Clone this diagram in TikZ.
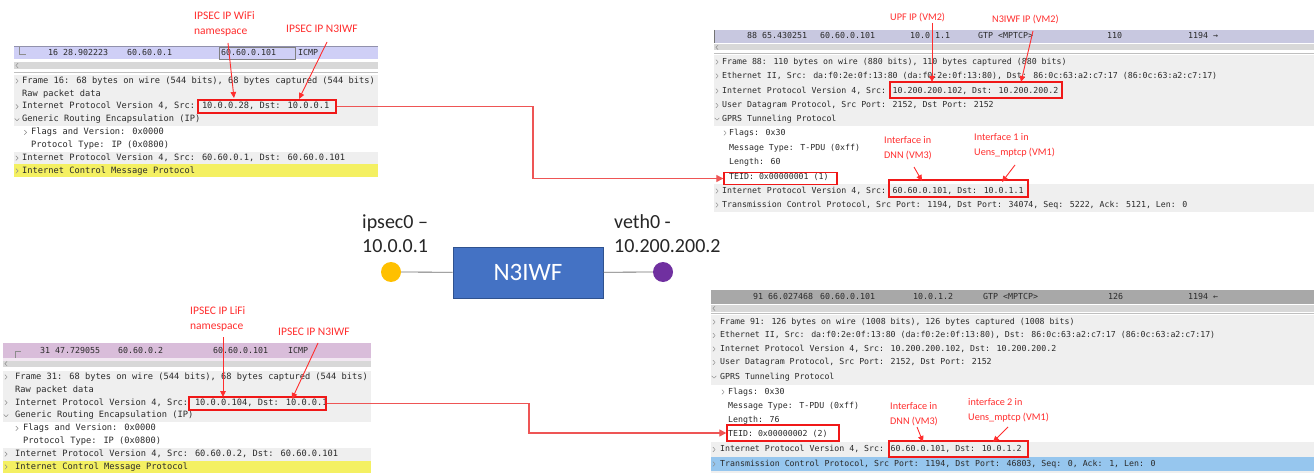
\documentclass[tikz,border=0pt]{standalone}
\usepackage{fontspec}
\setmainfont{Carlito}
\newfontfamily\wsmono{DejaVu Sans Mono}
\usetikzlibrary{arrows.meta,calc}
\definecolor{rowgray}{HTML}{EFEFEF}
\definecolor{wstext}{HTML}{2A2A2A}
\definecolor{icmpyel}{HTML}{F4F062}
\definecolor{tcpblue}{HTML}{96C6EE}
\definecolor{hdrtl}{HTML}{CFCFF6}
\definecolor{hdrbl}{HTML}{D9BDDA}
\definecolor{hdrtr}{HTML}{C8C8E0}
\definecolor{hdrbr}{HTML}{A8A8A8}
\definecolor{scrollg}{HTML}{D8D8D8}
\definecolor{labred}{HTML}{FF2E2E}
\definecolor{boxred}{HTML}{F01818}
\definecolor{connred}{HTML}{EE5555}
\definecolor{n3fill}{HTML}{4472C4}
\definecolor{n3draw}{HTML}{2F528F}
\definecolor{ipyel}{HTML}{FFC000}
\definecolor{vpurp}{HTML}{7030A0}
\newcommand\chR[2]{\draw[chev] (#1,#2) ++(-1.1,-2.3) -- ++(2.2,2.3) -- ++(-2.2,2.3);}
\newcommand\chL[2]{\draw[chev] (#1,#2) ++(1.1,-2.3) -- ++(-2.2,2.3) -- ++(2.2,2.3);}
\newcommand\chD[2]{\draw[chev] (#1,#2) ++(-2.3,-1.1) -- ++(2.3,2.2) -- ++(2.3,-2.2);}
\begin{document}
\begin{tikzpicture}[x=1pt,y=-1pt,
  lt/.style={anchor=west, inner sep=0, text=wstext, font=\wsmono\fontsize{8.7}{10}\selectfont, text height=6.4pt, text depth=1.8pt},
  rt/.style={anchor=west, inner sep=0, text=wstext, font=\wsmono\fontsize{8.25}{10}\selectfont, text height=6.2pt, text depth=1.7pt},
  ht/.style={anchor=west, inner sep=0, text=wstext, font=\wsmono\fontsize{8.3}{10}\selectfont, text height=6.2pt, text depth=1.7pt},
  llab/.style={inner sep=0, text=labred, align=left, font=\fontsize{11.5}{15}\selectfont},
  rlab/.style={inner sep=0, text=labred, align=left, font=\fontsize{10.2}{15}\selectfont},
  rbox/.style={draw=boxred, line width=1.4pt, inner sep=0, fill=none},
  conn/.style={draw=connred, line width=1.3pt, -{Triangle[length=7pt,width=7pt]}},
  larr/.style={draw=labred, line width=0.9pt, -{Triangle[length=6pt,width=5.5pt]}},
  chev/.style={draw=black!45, line width=0.5pt},
  ctext/.style={anchor=base west, inner sep=0, text=black!85, font=\fontsize{20}{24}\selectfont},
  link/.style={draw=black!55, line width=0.8pt},
  dot/.style={circle, inner sep=0, minimum size=20pt}
]
\useasboundingbox (0,0) rectangle (1314,473);
\fill[white] (0,0) rectangle (1314,473);

% ================= TOP-LEFT PANEL =================
\fill[hdrtl] (14,46) rectangle (378,59.5);
\draw[hdrtl!70!black, line width=0.5pt] (14,46) -- (378,46);
\draw[black!45, line width=0.5pt] (19,47.5) -- (19,54.5) -- (26,54.5);
\draw[black!50, line width=0.5pt] (219,47) rectangle (295,59);
\node[ht] (tlh1) at (48,53) {16 28.902223};
\node[ht] (tlh2) at (127,53) {60.60.0.1};
\node[ht] (tlh3) at (221,53) {60.60.0.101};
\node[ht] (tlh4) at (298,53) {ICMP};
\fill[scrollg] (14,62) rectangle (378,69);
\chL{17}{65.5}
\draw[black!25, line width=0.5pt] (14,72) -- (378,72);
\fill[rowgray] (14,74.6) rectangle (378,177.4);
\fill[white] (14,126) rectangle (378,151.7);
\fill[icmpyel] (14,164.5) rectangle (378,177.4);
\chR{17}{81}\chR{17}{106.7}\chD{17}{119.55}\chR{25.5}{132.4}\chR{17}{158.1}\chR{17}{170.95}
\node[lt] (tl1) at (22,81) {Frame 16: 68 bytes on wire (544 bits), 68 bytes captured (544 bits)};
\node[lt] (tl2) at (22,93.85) {Raw packet data};
\node[lt] (tl3) at (22,106.7) {Internet Protocol Version 4, Src: 10.0.0.28, Dst: 10.0.0.1};
\node[lt] (tl4) at (22,119.55) {Generic Routing Encapsulation (IP)};
\node[lt] (tl5) at (31,132.4) {Flags and Version: 0x0000};
\node[lt] (tl6) at (31,145.25) {Protocol Type: IP (0x0800)};
\node[lt] (tl7) at (22,158.1) {Internet Protocol Version 4, Src: 60.60.0.1, Dst: 60.60.0.101};
\node[lt] (tl8) at (22,170.95) {Internet Control Message Protocol};
\node[rbox, minimum width=138pt, minimum height=13pt] (tlbox) at (267,106.5) {};
\node[llab, anchor=north west] (tlwifi) at (194,11.6) {IPSEC IP WiFi\\namespace};
\node[llab, anchor=base west] (tln3) at (286,32.7) {IPSEC IP N3IWF};
\coordinate (tla1s) at (228,43); \coordinate (tla1e) at (234,98);
\coordinate (tla2s) at (327,42); \coordinate (tla2e) at (299,99);
\draw[larr] (tla1s) -- (tla1e);
\draw[larr] (tla2s) -- (tla2e);

% ================= BOTTOM-LEFT PANEL =================
\fill[hdrbl] (3,343) rectangle (371,358);
\fill[hdrbl!35] (3,358) rectangle (371,360.5);
\draw[black!45, line width=0.5pt] (15,358) -- (15,351.5) -- (21,351.5);
\node[ht] (blh1) at (40,351) {31 47.729055};
\node[ht] (blh2) at (118,351) {60.60.0.2};
\node[ht] (blh3) at (213,351) {60.60.0.101};
\node[ht] (blh4) at (288,351) {ICMP};
\fill[scrollg] (3,360.5) rectangle (371,367);
\chL{6}{363.7}
\fill[rowgray] (3,370.6) rectangle (371,473);
\fill[white] (3,422) rectangle (371,447.7);
\fill[icmpyel] (3,460.5) rectangle (371,473);
\chR{6}{377}\chR{6}{402.7}\chD{6}{415.55}\chR{17}{428.4}\chR{6}{454.1}\chR{6}{466.95}
\node[lt] (bl1) at (15,377) {Frame 31: 68 bytes on wire (544 bits), 68 bytes captured (544 bits)};
\node[lt] (bl2) at (15,389.85) {Raw packet data};
\node[lt] (bl3) at (15,402.7) {Internet Protocol Version 4, Src: 10.0.0.104, Dst: 10.0.0.1};
\node[lt] (bl4) at (15,415.55) {Generic Routing Encapsulation (IP)};
\node[lt] (bl5) at (23,428.4) {Flags and Version: 0x0000};
\node[lt] (bl6) at (23,441.25) {Protocol Type: IP (0x0800)};
\node[lt] (bl7) at (15,454.1) {Internet Protocol Version 4, Src: 60.60.0.2, Dst: 60.60.0.101};
\node[lt] (bl8) at (15,466.95) {Internet Control Message Protocol};
\node[rbox, minimum width=137pt, minimum height=13pt] (blbox) at (257.5,403.5) {};
\node[llab, anchor=north west] (bllifi) at (190,306.6) {IPSEC IP LiFi\\namespace};
\node[llab, anchor=base west] (bln3) at (278,335.7) {IPSEC IP N3IWF};
\coordinate (bla1s) at (223,337); \coordinate (bla1e) at (223,397);
\coordinate (bla2s) at (318,343); \coordinate (bla2e) at (292,399);
\draw[larr] (bla1s) -- (bla1e);
\draw[larr] (bla2s) -- (bla2e);

% ================= TOP-RIGHT PANEL =================
\fill[hdrtr] (714,30) rectangle (1314,43);
\draw[black!55, line width=0.6pt] (714,30) -- (714,43);
\node[ht] (trh1) at (747,36.5) {88 65.430251};
\node[ht] (trh2) at (820,36.5) {60.60.0.101};
\node[ht] (trh3) at (910,36.5) {10.0.1.1};
\node[ht] (trh4) at (978,36.5) {GTP <MPTCP>};
\node[ht] (trh5) at (1107,36.5) {110};
\node[ht] (trh6) at (1188,36.5) {1194 →};
\fill[scrollg] (714,44) rectangle (1314,50.5);
\chL{717}{47.3}
\draw[black!25, line width=0.5pt] (714,53) -- (1314,53);
\fill[rowgray] (714,55) rectangle (1314,212);
\fill[white] (714,126) rectangle (1314,184);
\chR{717}{62}\chR{717}{76}\chR{717}{91}\chR{717}{105.5}\chD{717}{119}\chR{725}{133}\chR{717}{191}\chR{717}{205}
\node[rt] (tr1) at (722,62) {Frame 88: 110 bytes on wire (880 bits), 110 bytes captured (880 bits)};
\node[rt] (tr2) at (722,76) {Ethernet II, Src: da:f0:2e:0f:13:80 (da:f0:2e:0f:13:80), Dst: 86:0c:63:a2:c7:17 (86:0c:63:a2:c7:17)};
\node[rt] (tr3) at (722,91) {Internet Protocol Version 4, Src: 10.200.200.102, Dst: 10.200.200.2};
\node[rt] (tr4) at (722,105.5) {User Datagram Protocol, Src Port: 2152, Dst Port: 2152};
\node[rt] (tr5) at (722,119) {GPRS Tunneling Protocol};
\node[rt] (tr6) at (729,133) {Flags: 0x30};
\node[rt] (tr7) at (729,148) {Message Type: T-PDU (0xff)};
\node[rt] (tr8) at (729,162) {Length: 60};
\node[rt] (tr9) at (729,177) {TEID: 0x00000001 (1)};
\node[rt] (tr10) at (722,191) {Internet Protocol Version 4, Src: 60.60.0.101, Dst: 10.0.1.1};
\node[rt] (tr11) at (722,205) {Transmission Control Protocol, Src Port: 1194, Dst Port: 34074, Seq: 5222, Ack: 5121, Len: 0};
\node[rbox, minimum width=172pt, minimum height=16pt] (trbox1) at (976,90) {};
\node[rbox, minimum width=113pt, minimum height=11.5pt] (trteid) at (780.5,178.5) {};
\node[rbox, minimum width=139pt, minimum height=17pt] (trbox2) at (958.5,188.5) {};
\node[rlab, anchor=base west] (trupf) at (890,20.3) {UPF IP (VM2)};
\node[rlab, anchor=base west] (trn3) at (992,22.3) {N3IWF IP (VM2)};
\node[rlab, anchor=north west] (trdnn) at (884,136.2) {Interface in\\DNN (VM3)};
\node[rlab, anchor=north west] (true) at (974,133.2) {Interface 1 in\\Uens\_mptcp (VM1)};
\coordinate (tra1s) at (932,23); \coordinate (tra1e) at (932,82);
\coordinate (tra2s) at (1033,31); \coordinate (tra2e) at (1021,82);
\coordinate (tra3s) at (914,167); \coordinate (tra3e) at (922,181);
\coordinate (tra4s) at (1015,165); \coordinate (tra4e) at (1002,182);
\draw[larr] (tra1s) -- (tra1e);
\draw[larr] (tra2s) -- (tra2e);
\draw[larr] (tra3s) -- (tra3e);
\draw[larr] (tra4s) -- (tra4e);

% ================= BOTTOM-RIGHT PANEL =================
\fill[hdrbr] (711,290) rectangle (1314,304);
\node[ht] (brh1) at (753,297) {91 66.027468};
\node[ht] (brh2) at (820,297) {60.60.0.101};
\node[ht] (brh3) at (913,297) {10.0.1.2};
\node[ht] (brh4) at (983,297) {GTP <MPTCP>};
\node[ht] (brh5) at (1108,297) {126};
\node[ht] (brh6) at (1188,297) {1194 ←};
\fill[scrollg] (711,305) rectangle (1314,311.5);
\chL{714}{308.3}
\draw[black!25, line width=0.5pt] (711,313.5) -- (1314,313.5);
\fill[rowgray] (711,315) rectangle (1314,473);
\fill[white] (711,385) rectangle (1314,441.5);
\fill[tcpblue] (711,457) rectangle (1314,471);
\chR{714}{322}\chR{714}{335.5}\chR{714}{349}\chR{714}{362.5}\chD{714}{377}\chR{723}{392}\chR{714}{449.5}\chR{714}{464}
\node[rt] (br1) at (720,322) {Frame 91: 126 bytes on wire (1008 bits), 126 bytes captured (1008 bits)};
\node[rt] (br2) at (720,335.5) {Ethernet II, Src: da:f0:2e:0f:13:80 (da:f0:2e:0f:13:80), Dst: 86:0c:63:a2:c7:17 (86:0c:63:a2:c7:17)};
\node[rt] (br3) at (720,349) {Internet Protocol Version 4, Src: 10.200.200.102, Dst: 10.200.200.2};
\node[rt] (br4) at (720,362.5) {User Datagram Protocol, Src Port: 2152, Dst Port: 2152};
\node[rt] (br5) at (720,377) {GPRS Tunneling Protocol};
\node[rt] (br6) at (728,392) {Flags: 0x30};
\node[rt] (br7) at (728,406) {Message Type: T-PDU (0xff)};
\node[rt] (br8) at (728,420) {Length: 76};
\node[rt] (br9) at (728,434) {TEID: 0x00000002 (2)};
\node[rt] (br10) at (720,449.5) {Internet Protocol Version 4, Src: 60.60.0.101, Dst: 10.0.1.2};
\node[rt] (br11) at (720,464) {Transmission Control Protocol, Src Port: 1194, Dst Port: 46803, Seq: 0, Ack: 1, Len: 0};
\node[rbox, minimum width=112pt, minimum height=16pt] (brteid) at (783,433) {};
\node[rbox, minimum width=139pt, minimum height=16pt] (brbox2) at (958.5,449) {};
\node[rlab, anchor=north west] (brdnn) at (890,402.2) {Interface in\\DNN (VM3)};
\node[rlab, anchor=north west] (brue) at (968,398.2) {interface 2 in\\Uens\_mptcp (VM1)};
\coordinate (bra3s) at (917,427); \coordinate (bra3e) at (923,442);
\coordinate (bra4s) at (1008,427); \coordinate (bra4e) at (993,442);
\draw[larr] (bra3s) -- (bra3e);
\draw[larr] (bra4s) -- (bra4e);

% ================= CONNECTORS =================
\coordinate (tlbend) at (533,106.5);
\coordinate (blbend) at (529,403.5);
\draw[conn] (tlbox.east) -- (tlbend) |- (trteid.west);
\draw[conn] (blbox.east) -- (blbend) |- (brteid.west);

% ================= CENTER =================
\node[draw=n3draw, fill=n3fill, line width=0.8pt, minimum width=150pt, minimum height=51pt, text=white, font=\fontsize{25}{30}\selectfont] (n3) at (528,272.5) {N3IWF};
\node[dot, fill=ipyel] (ipdot) at (391,272) {};
\node[dot, fill=vpurp] (vdot) at (663,272) {};
\draw[link] (ipdot) -- (n3);
\draw[link] (n3) -- (vdot);
\node[ctext] (ipl1) at (362,229) {ipsec0 –};
\node[ctext] (ipl2) at (362,252) {10.0.0.1};
\node[ctext] (vl1) at (614,229) {veth0 -};
\node[ctext] (vl2) at (614,252) {10.200.200.2};
\end{tikzpicture}
\end{document}
